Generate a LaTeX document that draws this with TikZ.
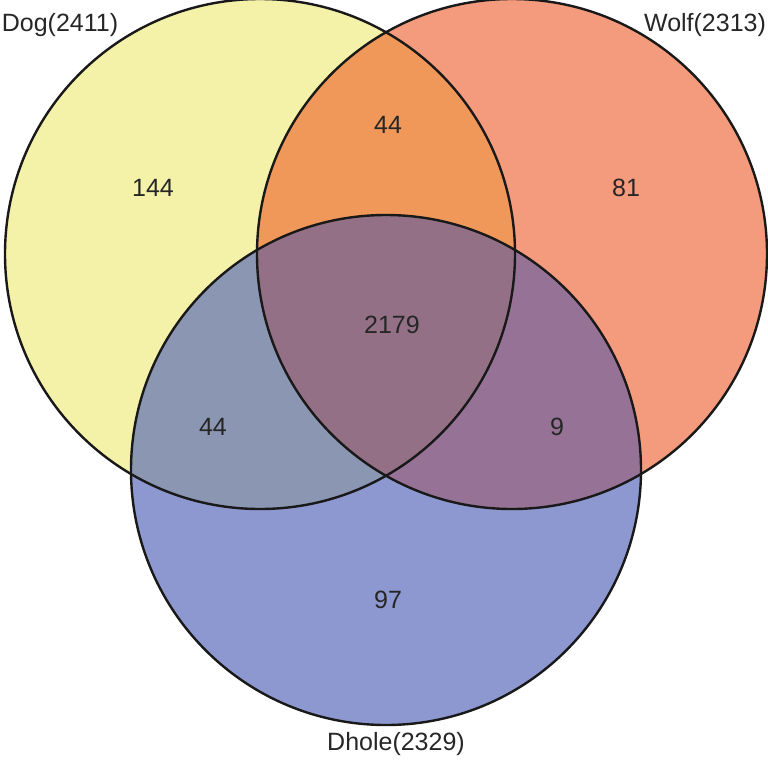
\documentclass[tikz,border=0pt]{standalone}
\usepackage{fontspec}
\setmainfont{Liberation Sans}
\definecolor{cdog}{RGB}{244,241,168}
\definecolor{cwolf}{RGB}{245,155,125}
\definecolor{cdhole}{RGB}{140,152,207}
\definecolor{cdw}{RGB}{240,152,90}
\definecolor{cdd}{RGB}{138,150,178}
\definecolor{cwd}{RGB}{150,115,150}
\definecolor{call}{RGB}{148,112,135}
\begin{document}
\begin{tikzpicture}[x=1pt,y=-1pt,
  lbl/.style={font=\fontsize{25}{30}\selectfont, text=black!85, inner sep=0pt},
  ring/.style={draw=black!90, line width=2.4pt}]
\useasboundingbox (0,0) rectangle (768,761);
\def\R{255}
\coordinate (dog) at (260,254);
\coordinate (wolf) at (512,254);
\coordinate (dhole) at (386,470);
% single fills
\fill[cdog] (dog) circle (\R);
\fill[cwolf] (wolf) circle (\R);
\fill[cdhole] (dhole) circle (\R);
% pairwise
\begin{scope}\clip (dog) circle (\R); \fill[cdw] (wolf) circle (\R); \end{scope}
\begin{scope}\clip (dog) circle (\R); \fill[cdd] (dhole) circle (\R); \end{scope}
\begin{scope}\clip (wolf) circle (\R); \fill[cwd] (dhole) circle (\R); \end{scope}
\begin{scope}\clip (dog) circle (\R); \clip (wolf) circle (\R); \fill[call] (dhole) circle (\R); \end{scope}
% outlines
\draw[ring] (dog) circle (\R);
\draw[ring] (wolf) circle (\R);
\draw[ring] (dhole) circle (\R);
% labels
\node[lbl] (ldog) at (60,25) {Dog(2411)};
\node[lbl] (lwolf) at (705,25) {Wolf(2313)};
\node[lbl] (ldhole) at (396,744) {Dhole(2329)};
\node[lbl] (n1) at (153,188) {144};
\node[lbl] (n2) at (388,125) {44};
\node[lbl] (n3) at (626,188) {81};
\node[lbl] (n4) at (392,325) {2179};
\node[lbl] (n5) at (213,427) {44};
\node[lbl] (n6) at (557,427) {9};
\node[lbl] (n7) at (388,600) {97};
\end{tikzpicture}
\end{document}
